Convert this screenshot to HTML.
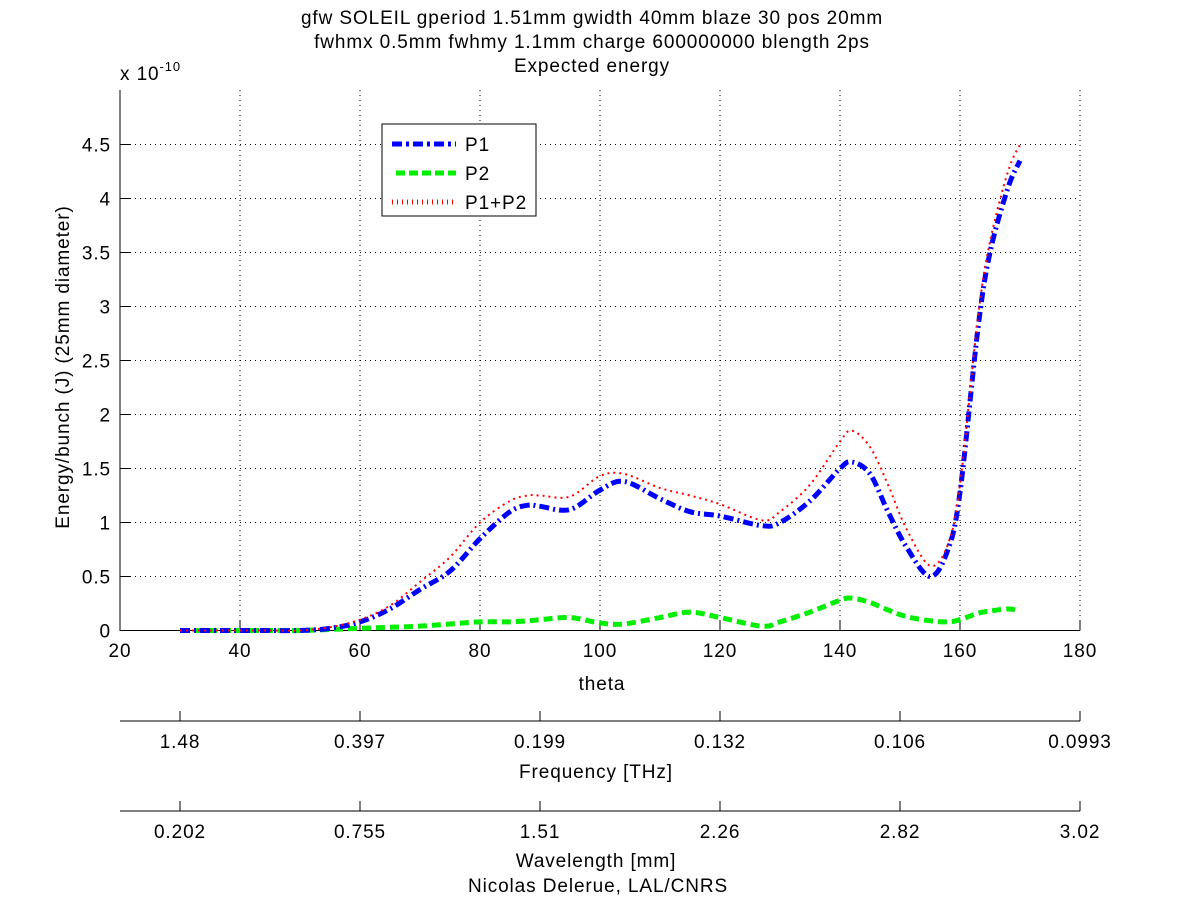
<!DOCTYPE html>
<html><head><meta charset="utf-8"><style>
body{margin:0;background:#fff;}
svg{display:block;font-family:"Liberation Sans",Arial,sans-serif;}
svg text{letter-spacing:0.9px;}
</style></head><body>
<svg id="chart" width="1200" height="901" viewBox="0 0 1200 901">
<rect width="1200" height="901" fill="#fff"/>
<g id="grid"></g>
<g id="axes"></g>
<g id="series"></g>
<g font-size="19" text-anchor="middle" fill="#000">
<text x="592" y="24">gfw SOLEIL gperiod 1.51mm gwidth 40mm blaze 30 pos 20mm</text>
<text x="592" y="48">fwhmx 0.5mm fwhmy 1.1mm charge 600000000 blength 2ps</text>
<text x="592" y="72">Expected energy</text>
<text x="602" y="690">theta</text>
<text x="596" y="778">Frequency [THz]</text>
<text x="596" y="867">Wavelength [mm]</text>
<text x="598" y="892">Nicolas Delerue, LAL/CNRS</text>
<text transform="translate(69,367) rotate(-90)">Energy/bunch (J) (25mm diameter)</text>
<text x="120" y="80" text-anchor="start">x 10<tspan dy="-9" font-size="13">-10</tspan></text>
</g>
<g>
<rect x="382" y="124" width="154" height="92" fill="#fff" stroke="#000" stroke-width="1"/>
<line x1="392" y1="144" x2="456" y2="144" stroke="#0000ff" stroke-width="5" stroke-dasharray="10,4,3,4"/>
<text x="465" y="151" font-size="19">P1</text>
<line x1="396" y1="173" x2="456" y2="173" stroke="#00ee00" stroke-width="5" stroke-dasharray="9,4"/>
<text x="465" y="180" font-size="19">P2</text>
<line x1="392" y1="202" x2="454" y2="202" stroke="#ff0000" stroke-width="5" stroke-dasharray="1,4"/>
<text x="465" y="209" font-size="19">P1+P2</text>
</g>
</svg>
<script>
const theta = [30,35,40,45,50,55,60,65,70,75,80,85,88,90,95,100,104,110,115,120,127,130,135,140,142,145,148,151,155,158,160,163,165,168,170];
const p1 =    [0,0,0,0,0,0.02,0.08,0.2,0.38,0.55,0.85,1.1,1.16,1.15,1.12,1.30,1.38,1.22,1.1,1.06,0.97,1.0,1.2,1.5,1.56,1.45,1.1,0.78,0.5,0.75,1.28,2.8,3.5,4.1,4.35];
const p2 =    [0,0,0,0,0,0.01,0.02,0.03,0.04,0.06,0.08,0.08,0.09,0.1,0.12,0.07,0.06,0.12,0.17,0.12,0.04,0.08,0.17,0.28,0.3,0.26,0.19,0.13,0.09,0.08,0.1,0.16,0.18,0.2,0.18];
const psum =  [0,0,0,0,0,0.03,0.1,0.23,0.45,0.68,1.0,1.2,1.25,1.25,1.24,1.43,1.45,1.32,1.25,1.17,1.02,1.1,1.35,1.75,1.85,1.7,1.35,0.95,0.6,0.8,1.35,2.9,3.6,4.25,4.5];
const xTicks = [20,40,60,80,100,120,140,160,180];
const yTicks = [0,0.5,1,1.5,2,2.5,3,3.5,4,4.5];
const yTickLabels = ["0","0.5","1","1.5","2","2.5","3","3.5","4","4.5"];
const secTicks = [30,60,90,120,150,180];
const freqLabels = ["1.48","0.397","0.199","0.132","0.106","0.0993"];
const waveLabels = ["0.202","0.755","1.51","2.26","2.82","3.02"];

const NS="http://www.w3.org/2000/svg";
const X = t => 120 + (t-20)*6;
const Y = v => 630.5 - v*108;
function mk(tag, attrs, parent){const e=document.createElementNS(NS,tag);for(const k in attrs)e.setAttribute(k,attrs[k]);parent.appendChild(e);return e;}
const grid=document.getElementById('grid'), axes=document.getElementById('axes'), ser=document.getElementById('series');
xTicks.forEach(t=>{ if(t>20){
  const l=mk('line',{x1:X(t),y1:90,x2:X(t),y2:630.5,stroke:'#000','stroke-width':1,'stroke-dasharray':'1,4'},grid);
  
  }
  const tk=mk('line',{x1:X(t),y1:630.5,x2:X(t),y2:621,stroke:'#000'},axes);
  
  
  const tx=mk('text',{x:X(t),y:657,'font-size':19,'text-anchor':'middle'},axes); tx.textContent=t;
  
  
});
yTicks.forEach((v,i)=>{
  if(v>0){const l=mk('line',{x1:120,y1:Y(v),x2:1080,y2:Y(v),stroke:'#000','stroke-width':1,'stroke-dasharray':'1,4'},grid);
  
  }
  const tk=mk('line',{x1:120,y1:Y(v),x2:130,y2:Y(v),stroke:'#000'},axes);
  
  
  const tx=mk('text',{x:111,y:Y(v)+7,'font-size':19,'text-anchor':'end'},axes); tx.textContent=yTickLabels[i];
  
  
});
let a=mk('line',{x1:120,y1:90,x2:120,y2:631,stroke:'#000'},axes);


a=mk('line',{x1:120,y1:630.5,x2:1080,y2:630.5,stroke:'#000'},axes);


[[721,freqLabels,'frequency'],[811,waveLabels,'wavelength']].forEach(([yy,labs,nm])=>{
  const l=mk('line',{x1:120,y1:yy,x2:1080,y2:yy,stroke:'#000'},axes);
  
  
  secTicks.forEach((t,i)=>{
    const tk=mk('line',{x1:X(t),y1:yy,x2:X(t),y2:yy-10,stroke:'#000'},axes);
    
    
    const tx=mk('text',{x:X(t),y:yy+27,'font-size':19,'text-anchor':'middle'},axes); tx.textContent=labs[i];
    
    
  });
});
function smooth(vals){
  const p=theta.map((t,i)=>[X(t),Y(vals[i])]);
  let d='M'+p[0][0]+','+p[0][1];
  for(let i=0;i<p.length-1;i++){
    const p0=p[Math.max(0,i-1)],p1_=p[i],p2_=p[i+1],p3=p[Math.min(p.length-1,i+2)];
    const c1=[p1_[0]+(p2_[0]-p0[0])/6,p1_[1]+(p2_[1]-p0[1])/6];
    const c2=[p2_[0]-(p3[0]-p1_[0])/6,p2_[1]-(p3[1]-p1_[1])/6];
    d+=' C'+c1.join(',')+' '+c2.join(',')+' '+p2_.join(',');
  }
  return d;
}
let s=mk('path',{d:smooth(p2),fill:'none',stroke:'#00ee00','stroke-width':5,'stroke-dasharray':'9,5'},ser);


s=mk('path',{d:smooth(p1),fill:'none',stroke:'#0000ff','stroke-width':5,'stroke-dasharray':'10,4,2,4'},ser);


s=mk('path',{d:smooth(psum),fill:'none',stroke:'#ff0000','stroke-width':2,'stroke-dasharray':'2,4'},ser);


</script>
</body></html>
